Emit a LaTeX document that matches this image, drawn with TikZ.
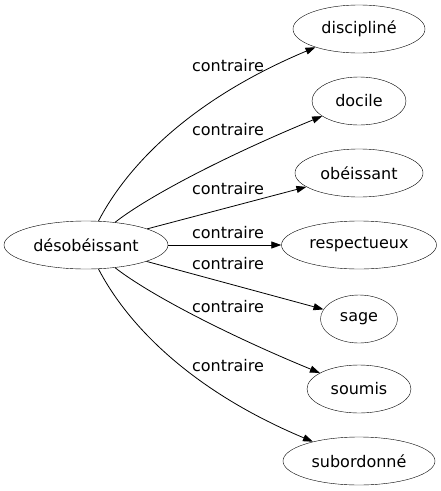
\documentclass[tikz,border=0pt]{standalone}
\usepackage{fontspec}
\setmainfont{DejaVu Sans}
\usetikzlibrary{shapes.geometric, arrows.meta, positioning}

\tikzset{
    mot/.style={draw, ellipse, inner sep=0pt, minimum height=48pt, font=\fontsize{16}{19}\selectfont},
    lien/.style={draw, line width=0.8pt, -{Triangle[length=10pt, width=7pt]}},
    etiq/.style={font=\fontsize{16}{19}\selectfont, inner sep=0pt}
}

\begin{document}
\begin{tikzpicture}[x=1pt, y=-1pt]
    \useasboundingbox (0,0) rectangle (441,491);

    % mot de depart
    \node[mot, minimum width=164pt] (deso) at (86,245) {désobéissant};

    % contraires
    \node[mot, minimum width=132pt] (disc) at (359,29) {discipliné};
    \node[mot, minimum width=94pt] (doci) at (359,101) {docile};
    \node[mot, minimum width=128pt] (obei) at (359,173) {obéissant};
    \node[mot, minimum width=155pt] (resp) at (359,245) {respectueux};
    \node[mot, minimum width=77pt] (sage) at (359,319) {sage};
    \node[mot, minimum width=104pt] (soum) at (359,389) {soumis};
    \node[mot, minimum width=152pt] (subo) at (359,461) {subordonné};

    % liens
    \draw[lien] (deso) .. controls (125,170) and (185,102) .. (disc);
    \draw[lien] (deso) .. controls (150,195) and (230,154) .. (doci);
    \draw[lien] (deso) -- (obei);
    \draw[lien] (deso) -- (resp);
    \draw[lien] (deso) -- (sage);
    \draw[lien] (deso) .. controls (150,295) and (230,336) .. (soum);
    \draw[lien] (deso) .. controls (125,320) and (185,388) .. (subo);

    % etiquettes
    \node[etiq] (e1) at (228,66) {contraire};
    \node[etiq] (e2) at (228,130) {contraire};
    \node[etiq] (e3) at (228,189) {contraire};
    \node[etiq] (e4) at (228,233) {contraire};
    \node[etiq] (e5) at (228,264) {contraire};
    \node[etiq] (e6) at (228,307) {contraire};
    \node[etiq] (e7) at (228,366) {contraire};
\end{tikzpicture}
\end{document}
